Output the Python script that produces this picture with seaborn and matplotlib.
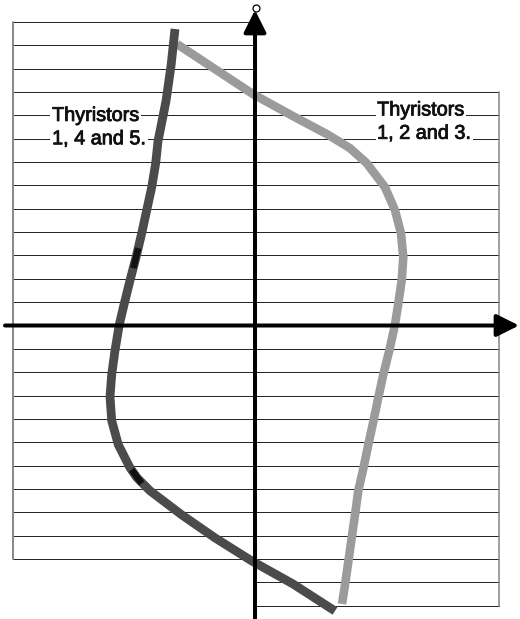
import numpy as np
import pandas as pd
import matplotlib
matplotlib.use("Agg")
import matplotlib.pyplot as plt
import matplotlib.patheffects as pe
import seaborn as sns

# ---- data (chart units: 1 unit = one grid row) ----
dark_x = [-3.433, -3.605, -3.820, -4.034, -4.163, -4.262, -4.433, -4.648, -4.863,
          -5.107, -5.365, -5.609, -5.824, -6.009, -6.150, -6.223, -6.150, -5.867,
          -5.365, -5.064, -4.506, -3.146, -1.717, -0.142, 1.631, 3.433]
dark_y = [12.704, 11.116, 9.614, 8.541, 7.897, 6.953, 5.923, 4.936, 3.948,
          2.918, 1.931, 0.944, 0.043, -1.073, -2.103, -3.047, -4.077, -5.107,
          -6.094, -6.524, -7.082, -8.112, -9.099, -10.086, -11.073, -12.232]

light_x = [-3.348, -0.086, 1.631, 3.090, 4.077, 4.794, 5.579, 6.009, 6.266,
           6.365, 6.296, 6.150, 6.009, 5.764, 5.506, 5.292, 5.077, 4.863,
           4.648, 4.433, 4.292, 4.150, 4.004, 3.863, 3.734]
light_y = [12.060, 9.914, 8.970, 8.197, 7.597, 6.953, 5.923, 4.936, 3.948,
           2.918, 1.931, 0.944, 0.043, -1.073, -2.103, -3.090, -4.120, -5.107,
           -6.137, -7.082, -8.112, -9.099, -10.129, -11.116, -11.931]

patch1_x = [-5.009, -5.223]
patch1_y = [3.318, 2.459]
patch2_x = [-5.292, -4.863]
patch2_y = [-6.180, -6.768]

left_label = ["Thyristors", "1, 4 and 5."]
right_label = ["Thyristors", "1, 2 and 3."]
left_grid_rows = list(range(-10, 14))   # grid rows left of the vertical axis
right_grid_rows = list(range(-12, 11))  # grid rows right of the vertical axis

# ---- style ----
sns.set_style("white")
plt.rcParams["font.family"] = ["Liberation Sans", "DejaVu Sans"]

W, H = 520, 619
fig = plt.figure(figsize=(W / 100, H / 100), dpi=100)
ax = fig.add_axes([0, 0, 1, 1])
ax.set_xlim(-255 / 23.3, 265 / 23.3)
ax.set_ylim((325.5 - 619) / 23.34, 325.5 / 23.34)
ax.axis("off")

px = 0.72  # points per pixel
grid_col = "#262626"
x_left, x_right = -10.37, 10.49

# grid rows
for r in left_grid_rows:
    ax.plot([x_left, 0], [r, r], color=grid_col, lw=1.0 * px, zorder=1)
for r in right_grid_rows:
    ax.plot([0, x_right], [r, r], color=grid_col, lw=1.0 * px, zorder=1)
# border lines
ax.plot([x_left, x_left], [min(left_grid_rows), max(left_grid_rows)],
        color="#8a8a8a", lw=2.0 * px, zorder=1)
ax.plot([x_right, x_right], [min(right_grid_rows), max(right_grid_rows)],
        color="#8a8a8a", lw=1.6 * px, zorder=1)

# labels with white background (they cut the grid rows)
bb = dict(facecolor="white", edgecolor="none", pad=1.2)
fx = [pe.withStroke(linewidth=0.6, foreground="#111111")]
for i, t in enumerate(left_label):
    ax.text(-8.71, 9 - i, t, fontsize=14.3, ha="left", va="center",
            color="#111111", bbox=bb, zorder=3, path_effects=fx)
for i, t in enumerate(right_label):
    ax.text(5.24, 9 - i, t, fontsize=14.3, ha="left", va="baseline",
            color="#111111", bbox=bb, zorder=3, path_effects=fx)

# curves
df_dark = pd.DataFrame({"x": dark_x, "y": dark_y})
df_light = pd.DataFrame({"x": light_x, "y": light_y})
sns.lineplot(data=df_light, x="x", y="y", sort=False, estimator=None, ax=ax,
             color="#9b9b9b", lw=8.6 * px, zorder=4)
sns.lineplot(data=df_dark, x="x", y="y", sort=False, estimator=None, ax=ax,
             color="#4b4b4b", lw=8.8 * px, zorder=4)
for lx, ly in ((patch1_x, patch1_y), (patch2_x, patch2_y)):
    sns.lineplot(x=lx, y=ly, sort=False, estimator=None, ax=ax,
                 color="#111111", lw=6.5 * px, zorder=4.5)
for ln in ax.lines[-4:]:
    ln.set_solid_capstyle("butt")
    ln.set_solid_joinstyle("round")

# axes with arrows
ap = dict(arrowstyle="-|>", color="black", lw=4 * px, shrinkA=0, shrinkB=0,
          mutation_scale=34)
ax.annotate("", xy=(264 / 23.3, 0), xytext=(-250 / 23.3, 0),
            arrowprops=ap, zorder=5)
ax.annotate("", xy=(0, (325.5 - 10) / 23.34), xytext=(0, (325.5 - 625) / 23.34),
            arrowprops=ap, zorder=5)
ax.plot([0.04], [(325.5 - 8) / 23.34], marker="o", ms=5, mfc="white",
        mec="black", mew=0.9, zorder=6)

fig.savefig("out.png", dpi=100)
